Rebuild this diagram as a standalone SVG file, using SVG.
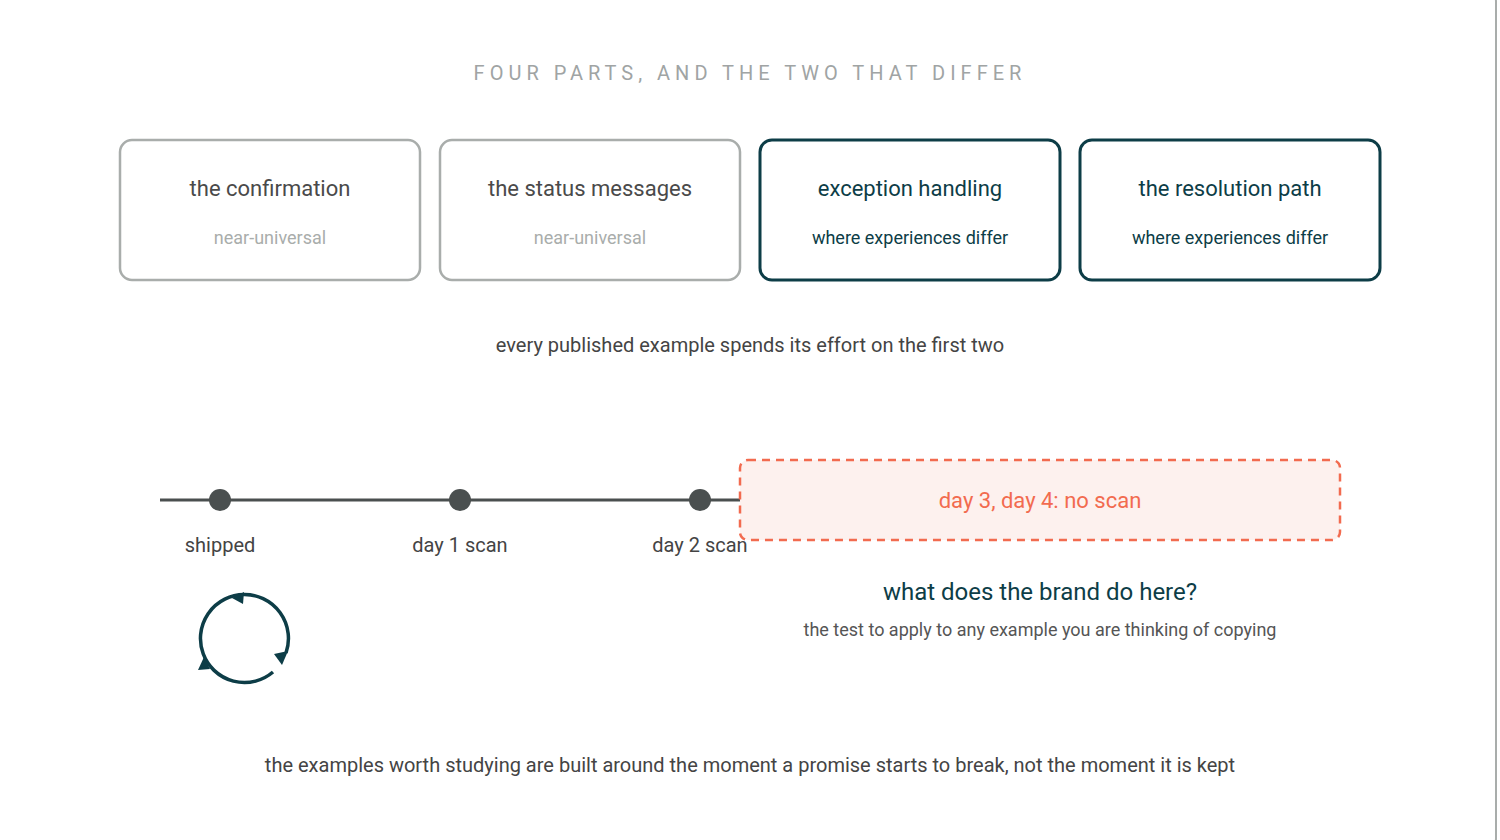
<svg xmlns="http://www.w3.org/2000/svg" width="1500" height="840" viewBox="0 0 1500 840">
<style>
text{font-family:Roboto,"Liberation Sans",sans-serif;text-anchor:middle}
.gbox{fill:#fff;stroke:#a9adab;stroke-width:2.5}
.dbox{fill:#fff;stroke:#0d3d47;stroke-width:3}
.t{font-size:22px}
.s{font-size:18px}
.lbl{font-size:20px;fill:#444}
</style>
<rect width="1500" height="840" fill="#fff"/>
<rect x="-20" y="-20" width="1516" height="880" rx="22" fill="none" stroke="#a9adab" stroke-width="2"/>
<text x="750" y="80" font-size="20" fill="#a0a4a4" letter-spacing="5">FOUR PARTS, AND THE TWO THAT DIFFER</text>
<g id="n1"><rect class="gbox" x="120" y="140" width="300" height="140" rx="12"/><text class="t" x="270" y="196" fill="#4a4a4a">the confirmation</text><text class="s" x="270" y="244" fill="#a9adab">near-universal</text></g>
<g id="n2"><rect class="gbox" x="440" y="140" width="300" height="140" rx="12"/><text class="t" x="590" y="196" fill="#4a4a4a">the status messages</text><text class="s" x="590" y="244" fill="#a9adab">near-universal</text></g>
<g id="n3"><rect class="dbox" x="760" y="140" width="300" height="140" rx="12"/><text class="t" x="910" y="196" fill="#0d3d47">exception handling</text><text class="s" x="910" y="244" fill="#0d3d47">where experiences differ</text></g>
<g id="n4"><rect class="dbox" x="1080" y="140" width="300" height="140" rx="12"/><text class="t" x="1230" y="196" fill="#0d3d47">the resolution path</text><text class="s" x="1230" y="244" fill="#0d3d47">where experiences differ</text></g>
<text x="750" y="352" font-size="20" fill="#444">every published example spends its effort on the first two</text>
<g id="connectors">
<line x1="160" y1="500" x2="740" y2="500" stroke="#4a4f4f" stroke-width="3"/>
</g>
<g id="timeline">
<circle cx="220" cy="500" r="11" fill="#4a4f4f"/><circle cx="460" cy="500" r="11" fill="#4a4f4f"/><circle cx="700" cy="500" r="11" fill="#4a4f4f"/>
<text class="lbl" x="220" y="552">shipped</text><text class="lbl" x="460" y="552">day 1 scan</text><text class="lbl" x="700" y="552">day 2 scan</text>
</g>
<g id="gap"><rect x="740" y="460" width="600" height="80" rx="8" fill="#fdf1ee" stroke="#f26b4f" stroke-width="2.5" stroke-dasharray="8 6"/><text x="1040" y="508" font-size="22" fill="#f26b4f">day 3, day 4: no scan</text></g>
<text x="1040" y="600" font-size="24" fill="#0d3d47">what does the brand do here?</text>
<text x="1040" y="636" font-size="18" fill="#555">the test to apply to any example you are thinking of copying</text>
<g id="cycle" fill="none" stroke="#0d3d47" stroke-width="3.5">
<path d="M 273 672 A 44 44 0 1 1 286 653"/>
<polygon points="232,598 244,592 243,604" fill="#0d3d47" stroke="none"/>
<polygon points="274,654 288,651 282,665" fill="#0d3d47" stroke="none"/>
<polygon points="198,670 204,657 210,669" fill="#0d3d47" stroke="none"/>
</g>
<text x="750" y="772" font-size="20" fill="#444">the examples worth studying are built around the moment a promise starts to break, not the moment it is kept</text>
</svg>
